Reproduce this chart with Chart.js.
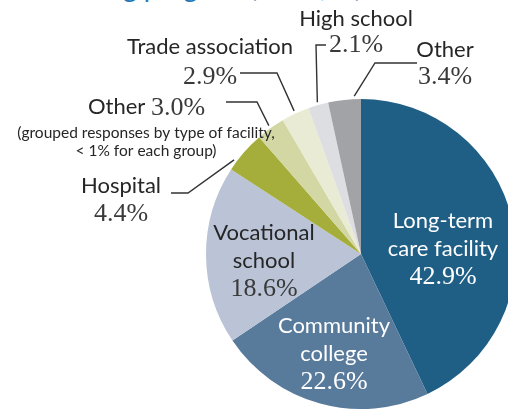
<!DOCTYPE html>
<html>
<head>
<meta charset="utf-8">
<script src="https://cdn.jsdelivr.net/npm/chart.js@4.4.1/dist/chart.umd.min.js"></script>
<style>
  html, body { margin: 0; padding: 0; overflow: hidden; background: #fff; width: 508px; height: 410px; }
  #title { position: absolute; top: -27px; right: 146px; font: 27px Lato, sans-serif; line-height: 28px; color: #2577b8; white-space: nowrap; }
  #wrap { position: absolute; left: 0; top: 0; width: 530px; height: 430px; }
</style>
</head>
<body>
<div id="title">Site of the training program (share, %)</div>
<div id="wrap"><canvas id="pieChart"></canvas></div>
<script>
// where the training program took place, clockwise from 12 o'clock
const siteLines = [
  ['Long-term', 'care facility'],
  ['Community', 'college'],
  ['Vocational', 'school'],
  ['Hospital'],
  ['Other'],
  ['Trade association'],
  ['High school'],
  ['Other']
];
const shares = [42.9, 22.6, 18.6, 4.4, 3.0, 2.9, 2.1, 3.4];
const otherNote = ['(grouped responses by type of facility,', '< 1% for each group)'];

const sliceColors = ['#1f5f86', '#587a9b', '#bac4d6', '#a6ae3b', '#d3d7a3', '#e9ebd4', '#dcdee2', '#a2a3a7'];

// label placement; leader = elbow then end point, at = where on the slice the line starts
const labelLayout = [
  { x: 443, y: 221, color: '#ffffff', pctColor: '#ffffff' },
  { x: 334, y: 326, color: '#ffffff', pctColor: '#ffffff' },
  { x: 264, y: 233 },
  { x: 121, y: 186, leader: [[188, 193], [171, 193]], at: 0.22 },
  { x: 88, y: 107, inline: true, noteX: 146, noteY: 133, leader: [[257, 102], [226, 102]] },
  { x: 210, y: 47, pctDy: 29, leader: [[277, 73], [240, 73]] },
  { x: 356, y: 19, pctDy: 25, leader: [[316, 45], [326, 45]] },
  { x: 445, y: 50, pctDy: 26, leader: [[375, 63], [417, 63]], at: 0.8 }
];

const SANS = '22px Lato, sans-serif';
const SERIF = '26px "Liberation Serif", serif';
const DARK = '#262626';
const PCT_DARK = '#3a3a3a';

const pieLabels = {
  id: 'pieLabels',
  afterDatasetsDraw(chart) {
    const ctx = chart.ctx;
    const arcs = chart.getDatasetMeta(0).data;
    ctx.save();
    ctx.textBaseline = 'middle';

    arcs.forEach((arc, i) => {
      const lay = labelLayout[i];
      const pct = shares[i].toFixed(1) + '%';

      // leader line from the slice edge
      if (lay.leader) {
        const p = arc.getProps(['x', 'y', 'startAngle', 'endAngle', 'outerRadius'], true);
        const f = lay.at !== undefined ? lay.at : 0.5;
        const a = p.startAngle + f * (p.endAngle - p.startAngle);
        const r = p.outerRadius + 3;
        ctx.beginPath();
        ctx.moveTo(p.x + Math.cos(a) * r, p.y + Math.sin(a) * r);
        lay.leader.forEach(pt => ctx.lineTo(pt[0], pt[1]));
        ctx.strokeStyle = '#333';
        ctx.lineWidth = 1.4;
        ctx.stroke();
      }

      if (lay.inline) {
        // name and value on one line, with a note underneath
        ctx.textAlign = 'left';
        ctx.font = SANS;
        ctx.fillStyle = DARK;
        ctx.fillText(siteLines[i][0], lay.x, lay.y);
        const w = ctx.measureText(siteLines[i][0] + ' ').width;
        ctx.font = SERIF;
        ctx.fillStyle = PCT_DARK;
        ctx.fillText(pct, lay.x + w, lay.y + 1);
        ctx.textAlign = 'center';
        ctx.font = '15.5px Lato, sans-serif';
        ctx.fillStyle = DARK;
        otherNote.forEach((t, k) => ctx.fillText(t, lay.noteX, lay.noteY + k * 18));
        return;
      }

      ctx.textAlign = 'center';
      ctx.font = SANS;
      ctx.fillStyle = lay.color || DARK;
      siteLines[i].forEach((t, k) => ctx.fillText(t, lay.x, lay.y + k * 28));
      const last = lay.y + (siteLines[i].length - 1) * 28;
      ctx.font = SERIF;
      ctx.fillStyle = lay.pctColor || PCT_DARK;
      ctx.fillText(pct, lay.x, last + (lay.pctDy || 27) + 1);
    });
    ctx.restore();
  }
};

new Chart(document.getElementById('pieChart'), {
  type: 'pie',
  data: {
    labels: siteLines.map(l => l.join(' ')),
    datasets: [{
      data: shares,
      backgroundColor: sliceColors,
      borderWidth: 0
    }]
  },
  options: {
    responsive: true,
    maintainAspectRatio: false,
    animation: false,
    layout: { padding: { left: 206, top: 99, right: 14, bottom: 21 } },
    plugins: {
      legend: { display: false },
      tooltip: { enabled: false }
    }
  },
  plugins: [pieLabels]
});
</script>
</body>
</html>
